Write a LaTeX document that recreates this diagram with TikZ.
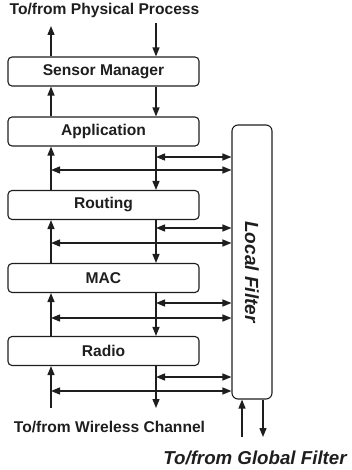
\documentclass[tikz,border=0pt]{standalone}
\usepackage{fontspec}
\setmainfont{Liberation Sans}
\usetikzlibrary{arrows.meta}
\definecolor{ink}{HTML}{1E1E1E}
\tikzset{
  layer/.style={draw=ink, line width=1.1pt, rounded corners=4pt,
    minimum width=191pt, minimum height=29pt, inner sep=0pt,
    font=\fontsize{15.6}{18}\selectfont\bfseries, text=ink},
  flow/.style={draw=ink, line width=1.3pt,
    -{Triangle[length=9pt,width=7pt]}},
  both/.style={draw=ink, line width=1.3pt,
    {Triangle[length=9pt,width=7pt]}-{Triangle[length=9pt,width=7pt]}},
  caption/.style={font=\fontsize{15.6}{18}\selectfont\bfseries, text=ink, inner sep=0pt},
  bigcaption/.style={font=\fontsize{18.7}{22}\selectfont\bfseries\itshape, text=ink, inner sep=0pt}
}
\begin{document}
\begin{tikzpicture}[x=1pt,y=-1pt]
\useasboundingbox (0,0) rectangle (352,470);

% protocol stack
\node[layer] (sm)   at (103.5,71.5)  {Sensor Manager};
\node[layer] (app)  at (103.5,131.5) {Application};
\node[layer] (rout) at (103.5,205)   {Routing};
\node[layer] (mac)  at (103.5,278)   {MAC};
\node[layer] (rad)  at (103.5,351)   {Radio};

% local filter column
\node[draw=ink, line width=1.1pt, rounded corners=6pt, minimum width=40pt,
      minimum height=274pt, inner sep=0pt] (lf) at (252,262) {};
\node[font=\fontsize{19}{22}\selectfont\bfseries\itshape, text=ink,
      rotate=-90, inner sep=0pt] (lft) at (252,272) {Local Filter};

% columns of the upward and downward paths
\coordinate (L) at (51,0);
\coordinate (R) at (156,0);

% outside labels
\node[caption] (phys) at (104.5,10) {To/from Physical Process};
\node[caption] (wire) at (109.5,427) {To/from Wireless Channel};
\node[bigcaption] (glob) at (255,458) {To/from Global Filter};

% physical process
\coordinate (pu) at (51,26);
\coordinate (pd) at (156,23);
\draw[flow] (sm.north -| L) -- (pu);
\draw[flow] (pd) -- (sm.north -| R);

% between layers
\draw[flow] (app.north -| L) -- (sm.south -| L);
\draw[flow] (sm.south -| R) -- (app.north -| R);

\draw[flow] (rout.north -| L) -- (app.south -| L);
\draw[flow] (app.south -| R) -- (rout.north -| R);

\draw[flow] (mac.north -| L) -- (rout.south -| L);
\draw[flow] (rout.south -| R) -- (mac.north -| R);

\draw[flow] (rad.north -| L) -- (mac.south -| L);
\draw[flow] (mac.south -| R) -- (rad.north -| R);

% wireless channel
\coordinate (wu) at (51,408);
\coordinate (wd) at (156,408);
\draw[flow] (wu) -- (rad.south -| L);
\draw[flow] (rad.south -| R) -- (wd);

% taps to the local filter
\foreach \ya/\yb in {157/170, 228/243, 303/318, 377/391}{
  \draw[both] (156,\ya) -- (lf.west |- 0,\ya);
  \draw[both] (51,\yb) -- (lf.west |- 0,\yb);
}

% global filter
\coordinate (gu) at (242,437);
\coordinate (gd) at (263,437);
\draw[flow] (gu) -- (lf.south -| gu);
\draw[flow] (lf.south -| gd) -- (gd);
\end{tikzpicture}
\end{document}
